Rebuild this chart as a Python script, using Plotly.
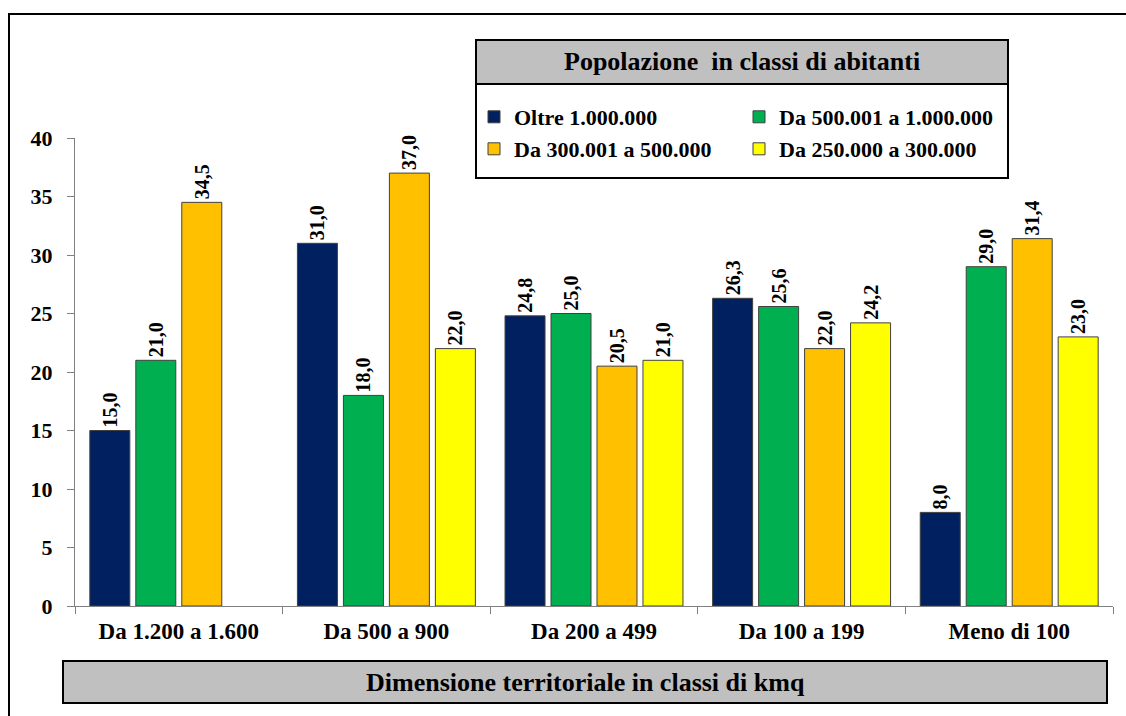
import plotly.graph_objects as go

categories = ["Da 1.200 a 1.600", "Da 500 a 900", "Da 200 a 499", "Da 100 a 199", "Meno di 100"]
series_names = ["Oltre 1.000.000", "Da 500.001 a 1.000.000", "Da 300.001 a 500.000", "Da 250.000 a 300.000"]
oltre_1m = [15.0, 31.0, 24.8, 26.3, 8.0]
da_500k_1m = [21.0, 18.0, 25.0, 25.6, 29.0]
da_300k_500k = [34.5, 37.0, 20.5, 22.0, 31.4]
da_250k_300k = [None, 22.0, 21.0, 24.2, 23.0]
colors = ["#002060", "#00B050", "#FFC000", "#FFFF00"]
y_ticks = [0, 5, 10, 15, 20, 25, 30, 35, 40]
legend_title = "Popolazione  in classi di abitanti"
x_title = "Dimensione territoriale in classi di kmq"

W, H = 1126, 716
L, R, T, B = 75, 13, 138, 110
PW, PH = W - L - R, H - T - B
FONT = "Liberation Serif, Times New Roman, serif"


def px(x):
    return (x - L) / PW


def py(y):
    return (H - B - y) / PH


def fmt(v):
    return "" if v is None else f"{v:.1f}".replace(".", ",")


fig = go.Figure()
all_series = [oltre_1m, da_500k_1m, da_300k_500k, da_250k_300k]
legends = ["legend", "legend", "legend2", "legend2"]
for name, vals, col, lg in zip(series_names, all_series, colors, legends):
    fig.add_trace(go.Bar(
        x=categories, y=vals, name=name, legend=lg,
        marker=dict(color=col, line=dict(color="#404040", width=1)),
        text=[fmt(v) for v in vals], textposition="outside", textangle=-90,
        textfont=dict(family=FONT, size=20, color="black", weight="bold"),
        cliponaxis=False,
    ))

legend_common = dict(
    orientation="h", xanchor="left", yanchor="middle",
    font=dict(family=FONT, size=22, color="black", weight="bold"),
    bgcolor="rgba(0,0,0,0)", borderwidth=0,
    entrywidth=220, entrywidthmode="pixels", traceorder="normal",
    itemclick=False, itemdoubleclick=False,
)

fig.update_layout(
    width=W, height=H,
    margin=dict(l=L, r=R, t=T, b=B),
    paper_bgcolor="white", plot_bgcolor="white",
    font=dict(family=FONT, color="black"),
    barmode="group", bargap=0.114, bargroupgap=0.13,
    showlegend=True,
    legend=dict(x=px(474), y=py(117), **legend_common),
    legend2=dict(x=px(474), y=py(149), **legend_common),
    xaxis=dict(
        showline=True, linecolor="#808080", linewidth=1,
        ticks="outside", tickson="boundaries", ticklen=7, tickcolor="#808080",
        tickfont=dict(family=FONT, size=23, color="black", weight="bold"),
        showgrid=False, ticklabelstandoff=4,
    ),
    yaxis=dict(
        range=[0, 40], tickvals=y_ticks,
        showline=True, linecolor="#808080", linewidth=1,
        ticks="outside", ticklen=7, tickcolor="#808080",
        tickfont=dict(family=FONT, size=22, color="black", weight="bold"),
        showgrid=False, zeroline=False, ticklabelstandoff=10,
    ),
)

shapes = [
    # outer frame
    dict(type="rect", xref="paper", yref="paper", x0=px(9), x1=px(1140), y0=py(14), y1=py(730),
         line=dict(color="black", width=2), fillcolor="rgba(0,0,0,0)", layer="below"),
    # legend box
    dict(type="rect", xref="paper", yref="paper", x0=px(476), x1=px(1008), y0=py(40), y1=py(178),
         line=dict(color="black", width=2), fillcolor="white", layer="above"),
    dict(type="rect", xref="paper", yref="paper", x0=px(476), x1=px(1008), y0=py(40), y1=py(84),
         line=dict(color="black", width=2), fillcolor="#C0C0C0", layer="above"),
    # x title box
    dict(type="rect", xref="paper", yref="paper", x0=px(63), x1=px(1107), y0=py(661), y1=py(703),
         line=dict(color="black", width=2), fillcolor="#C0C0C0", layer="above"),
]
fig.update_layout(shapes=shapes)

fig.add_annotation(xref="paper", yref="paper", x=px(742), y=py(62), text=f"<b>{legend_title}</b>",
                   showarrow=False, font=dict(family=FONT, size=26, color="black"),
                   xanchor="center", yanchor="middle")
fig.add_annotation(xref="paper", yref="paper", x=px(585), y=py(682), text=f"<b>{x_title}</b>",
                   showarrow=False, font=dict(family=FONT, size=26, color="black"),
                   xanchor="center", yanchor="middle")

fig.write_html("out.html", config={"displayModeBar": False},
               post_script="document.body.style.margin='0';")
